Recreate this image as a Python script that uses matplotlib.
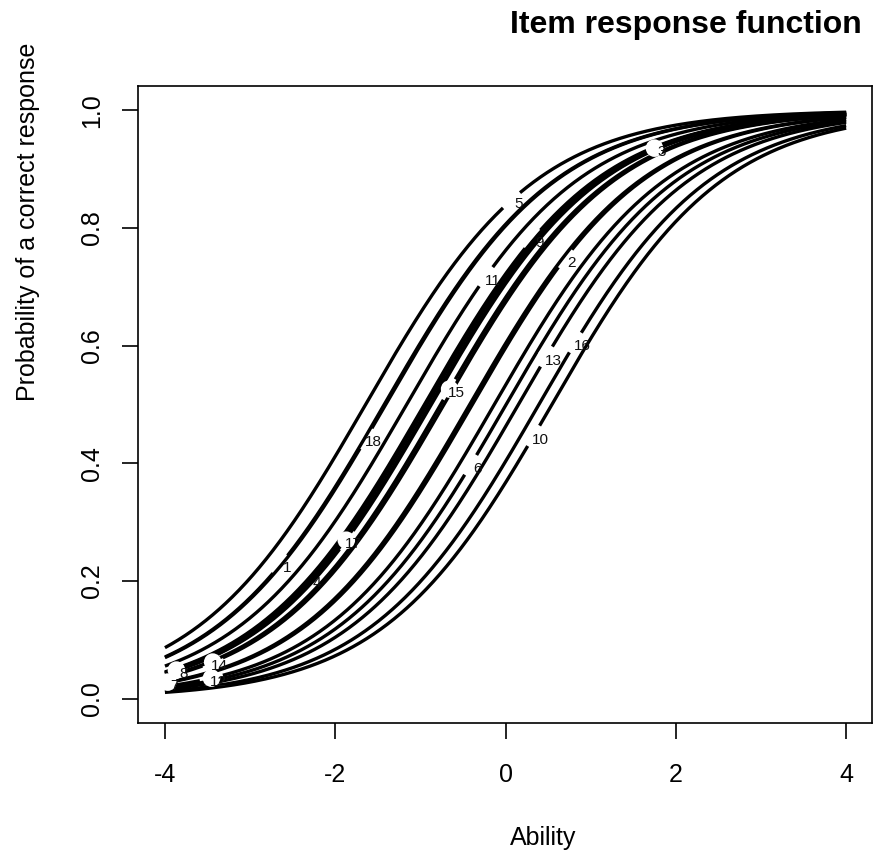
import numpy as np
import matplotlib
matplotlib.use("Agg")
import matplotlib.pyplot as plt

plt.rcParams['font.family'] = ['Liberation Sans', 'DejaVu Sans']

# item difficulties (1PL curves) and where each item's number sits on its curve
items = [str(i) for i in range(1, 19)]
difficulty = [-1.424, -0.389, -0.924, -0.933, -1.643, 0.008, -0.42, -0.887, -0.952,
              0.545, -1.161, -0.131, 0.152, -0.723, -0.761, 0.393, -0.871, -1.407]
label_x = [-2.641, 0.698, 1.749, -2.300, 0.070, -0.411, -3.967, -3.865, 0.317,
           0.329, -0.235, -3.454, 0.478, -3.439, -0.657, 0.822, -1.870, -1.637]
xticks = [-4, -2, 0, 2, 4]
yticks = [0.0, 0.2, 0.4, 0.6, 0.8, 1.0]

# labels that have a white disc behind them
circled = {'3', '7', '8', '12', '13', '14', '15', '17'}

W, H = 874, 856
fig = plt.figure(figsize=(W / 100, H / 100), dpi=100)
ax = fig.add_axes([137.7 / W, 1 - 723.3 / H, (871.7 - 137.7) / W, (723.3 - 86) / H])
ax.set_xlim(-4.32, 4.30)
ax.set_ylim(-0.042, 1.041)

theta = np.linspace(-4, 4, 801)


def irf(t, b):
    return 1.0 / (1.0 + np.exp(-(t - b)))


fig.canvas.draw()
to_px = ax.transData

for name, b, lx in zip(items, difficulty, label_x):
    p = irf(theta, b)
    ly = irf(lx, b)
    pts = to_px.transform(np.column_stack([theta, p]))
    c = to_px.transform([[lx, ly]])[0]
    dist = np.hypot(pts[:, 0] - c[0], pts[:, 1] - c[1])
    yy = p.copy()
    yy[dist < 11] = np.nan
    ax.plot(theta, yy, color='black', lw=2.4, solid_capstyle='butt', zorder=2)

for name, b, lx in zip(items, difficulty, label_x):
    ly = irf(lx, b)
    if name in circled:
        ax.scatter([lx], [ly], s=160, color='white', edgecolors='none', zorder=3)
    ax.annotate(name, (lx, ly), xytext=(5, -3), textcoords='offset points',
                ha='center', va='center', fontsize=11, color='#111111', zorder=4)

ax.set_xticks(xticks)
ax.set_xticklabels([str(t) for t in xticks])
ax.set_yticks(yticks)
ax.set_yticklabels([f'{t:.1f}' for t in yticks], rotation=90, va='center')
ax.tick_params(axis='both', direction='out', length=11.5, width=1.2, labelsize=18)
ax.tick_params(axis='x', pad=17)
ax.tick_params(axis='y', pad=13)
for s in ax.spines.values():
    s.set_linewidth(1.2)

fig.text(543 / W, 1 - 838 / H, 'Ability', ha='center', va='center', fontsize=18)
fig.text(28 / W, 1 - 222 / H, 'Probability of a correct response', rotation=90,
         ha='center', va='center', fontsize=18)
fig.text(862 / W, 1 - 33 / H, 'Item response function', ha='right', va='baseline',
         fontsize=23, fontweight='bold')

fig.savefig('out.png', dpi=100)
